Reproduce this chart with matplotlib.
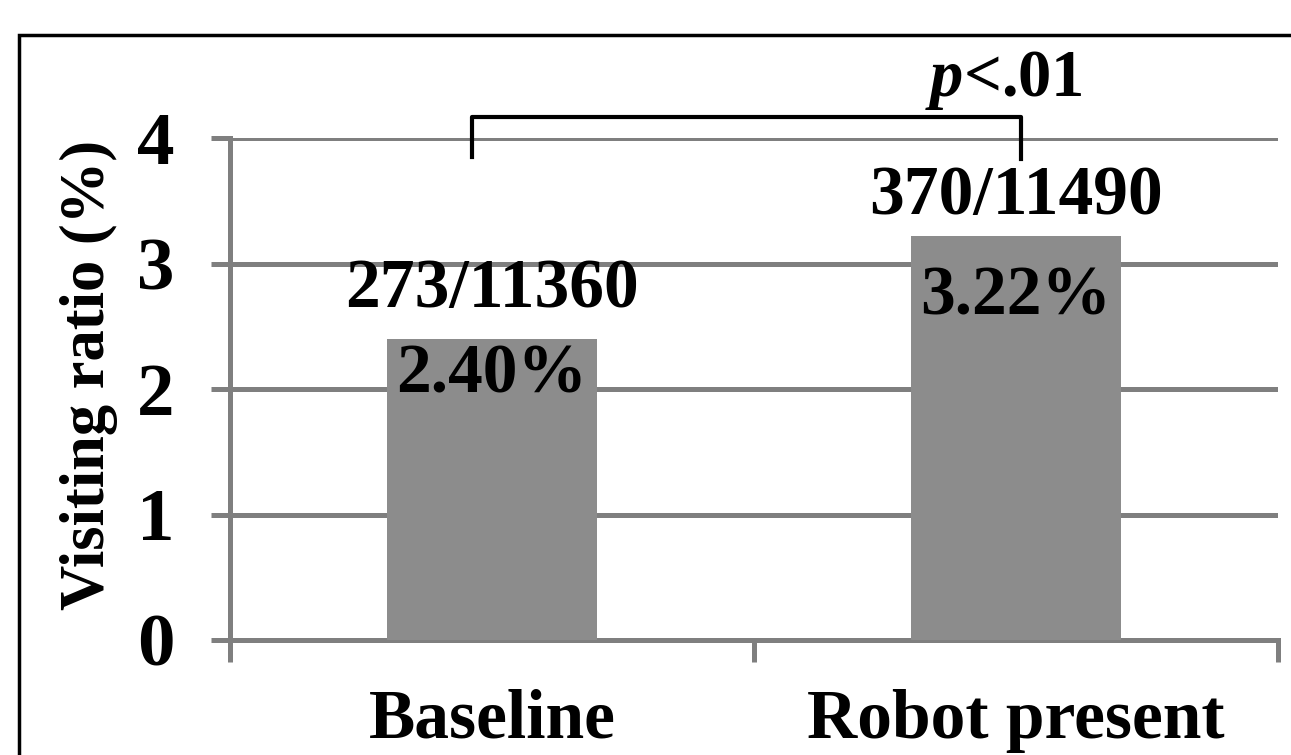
import matplotlib
matplotlib.use("Agg")
import matplotlib.pyplot as plt
from matplotlib.patches import Rectangle

categories = ["Baseline", "Robot present"]
ratios = [2.40, 3.22]
counts = ["273/11360", "370/11490"]
pct_labels = ["2.40%", "3.22%"]
yticks = [0, 1, 2, 3, 4]

# label placement (y in data units)
count_y = [2.79, 3.53]
pct_y = [2.11, 2.73]

plt.rcParams['font.family'] = ['Liberation Serif', 'DejaVu Serif']
plt.rcParams['font.weight'] = 'bold'
plt.rcParams['mathtext.fontset'] = 'custom'
plt.rcParams['mathtext.it'] = 'Liberation Serif:italic:bold'
plt.rcParams['mathtext.rm'] = 'Liberation Serif:bold'

grid_col = '#7f7f7f'
bar_col = '#8c8c8c'

fig = plt.figure(figsize=(12.91, 7.55), dpi=100)
ax = fig.add_axes([230 / 1291, 1 - 640 / 755, (1278 - 230) / 1291, (640 - 138) / 755])

x = list(range(len(categories)))
ax.bar(x, ratios, width=0.4, color=bar_col, zorder=3)

ax.set_xlim(-0.5, 1.5)
ax.set_ylim(0, 4)
ax.set_yticks(yticks)
ax.set_yticklabels([str(t) for t in yticks], fontsize=54, fontweight='bold')
ax.yaxis.grid(True, color=grid_col, linewidth=3.6, zorder=0)
ax.set_axisbelow(True)

# category boundaries as x ticks
ax.set_xticks([-0.5, 0.5, 1.5])
ax.set_xticklabels([])
ax.set_xticks(x, minor=True)
ax.set_xticklabels(categories, minor=True, fontsize=50, fontweight='bold')
ax.tick_params(axis='x', which='minor', length=0, pad=35)
ax.tick_params(axis='x', which='major', length=16, width=3.6, color=grid_col)
ax.tick_params(axis='y', length=14, width=3.6, color=grid_col, pad=26)

for s in ['top', 'right']:
    ax.spines[s].set_visible(False)
for s in ['left', 'bottom']:
    ax.spines[s].set_color(grid_col)
    ax.spines[s].set_linewidth(3.6)

ax.set_ylabel("Visiting ratio (%)", fontsize=45, fontweight='bold')
ax.yaxis.set_label_coords(-0.107, 0.528)

# value labels
for xi, c, p, cy, py in zip(x, counts, pct_labels, count_y, pct_y):
    ax.text(xi, cy, c, ha='center', va='center', fontsize=50, fontweight='bold', zorder=5)
    ax.text(xi, py, p, ha='center', va='center', fontsize=50, fontweight='bold', zorder=5)

# significance bracket
ax.plot([-0.038, -0.038, 1.01, 1.01], [3.85, 4.17, 4.17, 3.83], color='black',
        linewidth=3, clip_on=False, zorder=6)
ax.text(0.977, 4.46, r"$p$<.01", ha='center', va='center', fontsize=48, fontweight='bold')

# outer frame
fig.patches.append(Rectangle((19 / 1291, -0.1), 1.2, 1 - 35 / 755 + 0.1,
                             transform=fig.transFigure, fill=False,
                             edgecolor='black', linewidth=2.5))

fig.savefig("out.png", dpi=100)
